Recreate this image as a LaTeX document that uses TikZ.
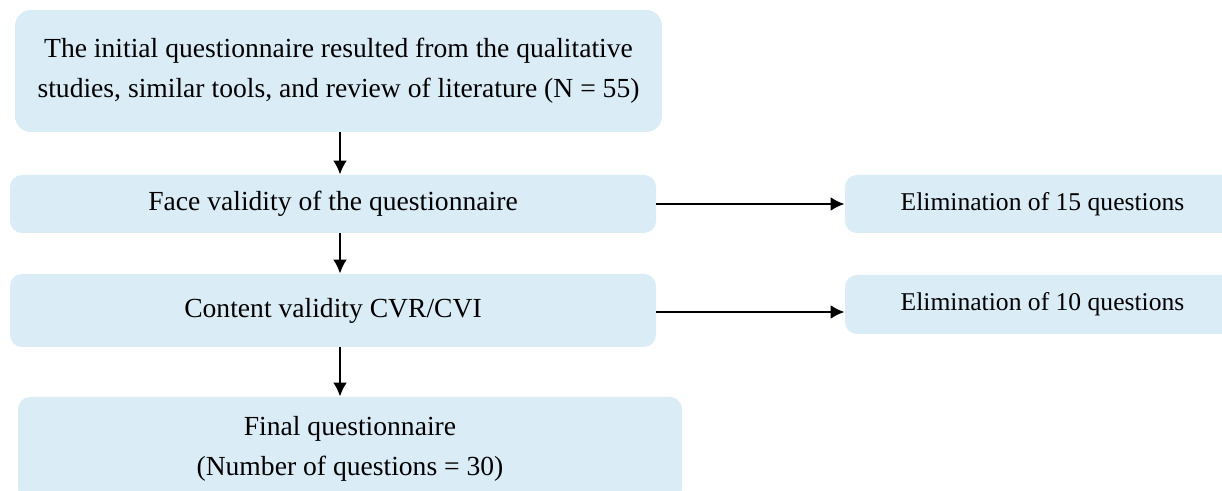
\documentclass[tikz,border=0pt]{standalone}
\usepackage{fontspec}
\setmainfont{Liberation Serif}
\usepackage{xcolor}
\definecolor{boxblue}{RGB}{218,236,246}
\usetikzlibrary{arrows.meta}
\tikzset{>={Latex[length=7pt, width=7pt]},
    stepbox/.style={fill=boxblue, rounded corners=6pt, align=center,
      inner sep=0pt, font=\fontsize{13.8}{20}\selectfont},
    sidebox/.style={stepbox, font=\fontsize{12.8}{20}\selectfont},
    flow/.style={->, line width=1.3pt}}

\begin{document}
\begin{tikzpicture}[x=0.5pt, y=-0.5pt]
    \clip (0,0) rectangle (1222,491);
    % main column
    \node[stepbox, rounded corners=8pt, minimum width=323.5pt, minimum height=61pt] (init) at (338.5, 71)
      {The initial questionnaire resulted from the qualitative\\studies, similar tools, and review of literature (N = 55)};
    \node[stepbox, minimum width=323pt, minimum height=29pt] (face) at (333, 204)
      {Face validity of the questionnaire};
    \node[stepbox, minimum width=323pt, minimum height=36.5pt] (content) at (333, 310.5)
      {Content validity CVR/CVI};
    \node[stepbox, minimum width=332pt, minimum height=52pt] (final) at (350, 449)
      {Final questionnaire\\(Number of questions = 30)};
    % eliminated items
    \node[sidebox, minimum width=197.5pt, minimum height=29pt] (elim15) at (1042.5, 204)
      {Elimination of 15 questions};
    \node[sidebox, minimum width=197.5pt, minimum height=29.5pt] (elim10) at (1042.5, 304.5)
      {Elimination of 10 questions};
    % arrows
    \coordinate (axis) at (340, 0);
    \draw[flow] (init.south -| axis) -- (face.north -| axis);
    \draw[flow] (face.south -| axis) -- (content.north -| axis);
    \draw[flow] (content.south -| axis) -- (final.north -| axis);
    \draw[flow] (face.east) -- (face.east -| elim15.west);
    \draw[flow] ([yshift=-0.75pt]content.east) -- ([yshift=-0.75pt]content.east -| elim10.west);
\end{tikzpicture}
\end{document}
